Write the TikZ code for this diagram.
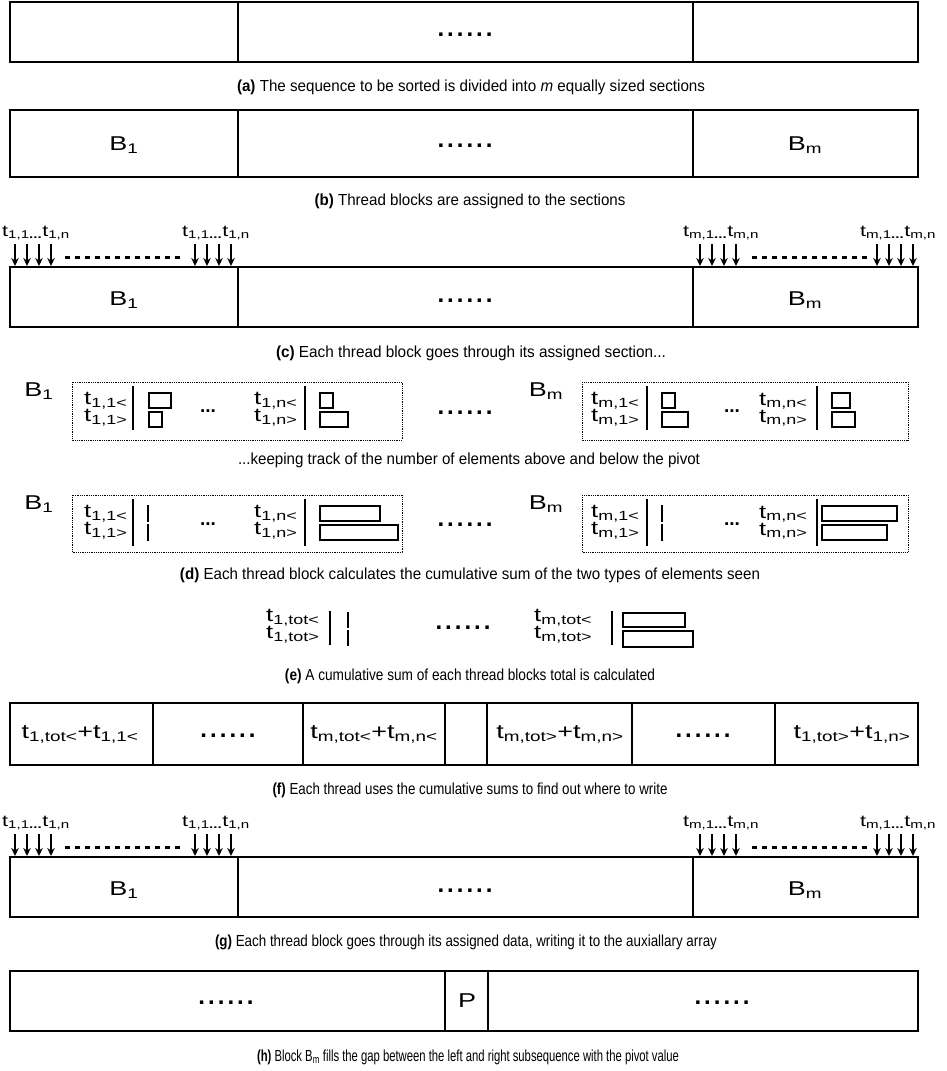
\documentclass[tikz,border=0pt]{standalone}
\usepackage{fontspec}
\usepackage{graphicx}
\setmainfont{Liberation Sans}
\newfontfamily\capfam[FakeStretch=0.85]{Liberation Sans}
\newfontfamily\widefam[FakeStretch=1.35]{Liberation Sans}
\usetikzlibrary{arrows.meta}
\newcommand\capf{\capfam\fontsize{16}{18}\selectfont}
\newcommand\sixdots{\textbf{.\kern3pt.\kern3pt.\kern3pt.\kern3pt.\kern3pt.}}
\newcommand\sbx[1]{\textsubscript{#1}}
\newsavebox\fitbox
\newlength\fitlen
\newcommand\fitw[2]{\sbox\fitbox{#2}\setlength\fitlen{\wd\fitbox}%
  \pgfmathsetmacro\fitsx{#1/\the\fitlen}\scalebox{\fitsx}[1]{\usebox\fitbox}}
\tikzset{
  cell/.style={draw, line width=1.3pt},
  blab/.style={font=\widefam\fontsize{20}{22}\selectfont, inner sep=0pt},
  tl/.style={font=\widefam\fontsize{19}{20}\selectfont, inner sep=0pt, anchor=west},
  thl/.style={font=\widefam\fontsize{16}{17}\selectfont, inner sep=0pt},
  flab/.style={font=\widefam\fontsize{20}{21}\selectfont, inner sep=0pt},
  dts/.style={font=\fontsize{24}{24}\selectfont, inner sep=0pt, anchor=base, yshift=-3pt},
  sdts/.style={font=\bfseries\fontsize{19}{20}\selectfont, inner sep=0pt, anchor=base},
  capt/.style={font=\capf, inner sep=0pt},
  vbar/.style={line width=1.6pt},
  mini/.style={draw, line width=1.2pt},
  dbox/.style={draw, densely dotted, line width=0.8pt},
  thr/.style={line width=1.5pt, -{Stealth[length=8pt,width=7.5pt]}},
  dsh/.style={line width=3pt, dash pattern=on 4.5pt off 5.5pt},
}
\begin{document}
\begin{tikzpicture}[x=1pt,y=-1pt]
\useasboundingbox (0,0) rectangle (946,1071);
% ---------------- (a)
\draw[cell] (10,2) rectangle (918,62);
\draw[cell] (238,2) -- (238,62) (693,2) -- (693,62);
\node[dts] (a-dots) at (465,33.5) {\sixdots};
\node[capt] (a-cap) at (471,87) {\fitw{468}{\textbf{(a)} The sequence to be sorted is divided into \textit{m} equally sized sections}};
% ---------------- (b)
\draw[cell] (10,110) rectangle (918,177);
\draw[cell] (238,110) -- (238,177) (693,110) -- (693,177);
\node[blab] (b-B1) at (124,145) {B\sbx{1}};
\node[dts] (b-dots) at (465,144.5) {\sixdots};
\node[blab] (b-Bm) at (805,145) {B\sbx{m}};
\node[capt] (b-cap) at (470,201) {\fitw{311}{\textbf{(b)} Thread blocks are assigned to the sections}};
% ---------------- (c) and (g)
\foreach \r/\yo in {c/0, g/590}{
  \draw[cell] (10,267+\yo) rectangle (918,327+\yo);
  \draw[cell] (238,267+\yo) -- (238,327+\yo) (693,267+\yo) -- (693,327+\yo);
  \node[blab] (\r-B1) at (124,300+\yo) {B\sbx{1}};
  \node[dts] (\r-dots) at (465,299.5+\yo) {\sixdots};
  \node[blab] (\r-Bm) at (805,300+\yo) {B\sbx{m}};
  \foreach \g/\x/\s in {1/15/1, 2/195/1, 3/700/m, 4/877/m}{
    \node[thl] (\r-lab\g) at (\x+21,233+\yo) {t\sbx{\s,1\textbf{...}}t\sbx{\s,n}};
    \foreach \k in {0,1,2,3}{
      \coordinate (\r-s\g\k) at (\x+12*\k,244+\yo);
      \coordinate (\r-e\g\k) at (\x+12*\k,266+\yo);
      \draw[thr] (\r-s\g\k) -- (\r-e\g\k);
    }
  }
  \coordinate (\r-d1a) at (65,257+\yo);
  \coordinate (\r-d1b) at (182,257+\yo);
  \coordinate (\r-d2a) at (752,257+\yo);
  \coordinate (\r-d2b) at (868,257+\yo);
  \draw[dsh] (\r-d1a) -- (\r-d1b);
  \draw[dsh] (\r-d2a) -- (\r-d2b);
}
\node[capt] (c-cap) at (471,353) {\fitw{390}{\textbf{(c)} Each thread block goes through its assigned section...}};
\node[capt] (g-cap) at (466,942) {\fitw{502}{\textbf{(g)} Each thread block goes through its assigned data, writing it to the auxiallary array}};
% ---------------- (c')
\node[blab] (k-B1) at (39,391) {B\sbx{1}};
\draw[dbox] (72,382) rectangle (402,440);
\node[tl] (k-t11l) at (84,401) {t\sbx{1,1<}};
\node[tl] (k-t11g) at (84,418) {t\sbx{1,1>}};
\draw[vbar] (133,386) -- (133,430);
\draw[mini] (149,393) rectangle (171,408);
\draw[mini] (149,412) rectangle (162,427);
\node[sdts] (k-e1) at (208,412) {...};
\node[tl] (k-t1nl) at (254,401) {t\sbx{1,n<}};
\node[tl] (k-t1ng) at (254,418) {t\sbx{1,n>}};
\draw[vbar] (305,386) -- (305,430);
\draw[mini] (320,393) rectangle (333,408);
\draw[mini] (320,412) rectangle (348,427);
\node[dts] (k-dots) at (465,411.5) {\sixdots};
\node[blab] (k-Bm) at (546,391) {B\sbx{m}};
\draw[dbox] (582,382) rectangle (908,440);
\node[tl] (k-tm1l) at (591,401) {t\sbx{m,1<}};
\node[tl] (k-tm1g) at (591,418) {t\sbx{m,1>}};
\draw[vbar] (647,386) -- (647,430);
\draw[mini] (662,393) rectangle (675,408);
\draw[mini] (662,412) rectangle (688,427);
\node[sdts] (k-e2) at (732,412) {...};
\node[tl] (k-tmnl) at (759,401) {t\sbx{m,n<}};
\node[tl] (k-tmng) at (759,418) {t\sbx{m,n>}};
\draw[vbar] (817,386) -- (817,430);
\draw[mini] (832,393) rectangle (850,408);
\draw[mini] (832,412) rectangle (855,427);
\node[capt] (k-cap) at (469,460) {\fitw{462}{...keeping track of the number of elements above and below the pivot}};
% ---------------- (d)
\node[blab] (d-B1) at (39,504) {B\sbx{1}};
\draw[dbox] (72,495) rectangle (402,552);
\node[tl] (d-t11l) at (84,514) {t\sbx{1,1<}};
\node[tl] (d-t11g) at (84,531) {t\sbx{1,1>}};
\draw[vbar] (133,499) -- (133,546);
\draw[mini] (147.5,506) rectangle (148.5,521);
\draw[mini] (147.5,525) rectangle (148.5,540);
\node[sdts] (d-e1) at (208,525) {...};
\node[tl] (d-t1nl) at (254,514) {t\sbx{1,n<}};
\node[tl] (d-t1ng) at (254,531) {t\sbx{1,n>}};
\draw[vbar] (305,499) -- (305,546);
\draw[mini] (320,506) rectangle (380,521);
\draw[mini] (320,525) rectangle (398,540);
\node[dts] (d-dots) at (465,523.5) {\sixdots};
\node[blab] (d-Bm) at (546,504) {B\sbx{m}};
\draw[dbox] (582,495) rectangle (908,552);
\node[tl] (d-tm1l) at (591,514) {t\sbx{m,1<}};
\node[tl] (d-tm1g) at (591,531) {t\sbx{m,1>}};
\draw[vbar] (647,499) -- (647,546);
\draw[mini] (661.5,506) rectangle (662.5,521);
\draw[mini] (661.5,525) rectangle (662.5,540);
\node[sdts] (d-e2) at (732,525) {...};
\node[tl] (d-tmnl) at (759,514) {t\sbx{m,n<}};
\node[tl] (d-tmng) at (759,531) {t\sbx{m,n>}};
\draw[vbar] (817,499) -- (817,546);
\draw[mini] (822,506) rectangle (897,521);
\draw[mini] (822,525) rectangle (887,540);
\node[capt] (d-cap) at (470,575) {\fitw{580}{\textbf{(d)} Each thread block calculates the cumulative sum of the two types of elements seen}};
% ---------------- (e)
\node[tl] (e-t1l) at (266,618) {t\sbx{1,tot<}};
\node[tl] (e-t1g) at (266,635) {t\sbx{1,tot>}};
\draw[vbar] (330,611) -- (330,645);
\draw[mini] (347.5,613) rectangle (348.5,627);
\draw[mini] (347.5,631) rectangle (348.5,645);
\node[dts] (e-dots) at (463,626.5) {\sixdots};
\node[tl] (e-tml) at (534,618) {t\sbx{m,tot<}};
\node[tl] (e-tmg) at (534,635) {t\sbx{m,tot>}};
\draw[vbar] (612,611) -- (612,645);
\draw[mini] (623,613) rectangle (685,627);
\draw[mini] (623,631) rectangle (693,647);
\node[capt] (e-cap) at (470,676) {\fitw{370}{\textbf{(e)} A cumulative sum of each thread blocks total is calculated}};
% ---------------- (f)
\draw[cell] (10,703) rectangle (918,765);
\foreach \xx in {153,303,445,487,632,775}{\draw[cell] (\xx,703) -- (\xx,765);}
\node[flab] (f-1) at (80,734) {t\sbx{1,tot<}+t\sbx{1,1<}};
\node[dts] (f-d1) at (228,734.5) {\sixdots};
\node[flab] (f-3) at (374,734) {t\sbx{m,tot<}+t\sbx{m,n<}};
\node[flab] (f-5) at (560,734) {t\sbx{m,tot>}+t\sbx{m,n>}};
\node[dts] (f-d2) at (703,734.5) {\sixdots};
\node[flab] (f-7) at (852,734) {t\sbx{1,tot>}+t\sbx{1,n>}};
\node[capt] (f-cap) at (470,790) {\fitw{395}{\textbf{(f)} Each thread uses the cumulative sums to find out where to write}};
% ---------------- (h)
\draw[cell] (10,971) rectangle (918,1031);
\draw[cell] (445,971) -- (445,1031) (488,971) -- (488,1031);
\node[dts] (h-d1) at (226,1001.5) {\sixdots};
\node[blab] (h-P) at (467,1001) {P};
\node[dts] (h-d2) at (722,1001.5) {\sixdots};
\node[capt] (h-cap) at (468,1057) {\fitw{422}{\textbf{(h)} Block B\sbx{m} fills the gap between the left and right subsequence with the pivot value}};
\end{tikzpicture}
\end{document}
